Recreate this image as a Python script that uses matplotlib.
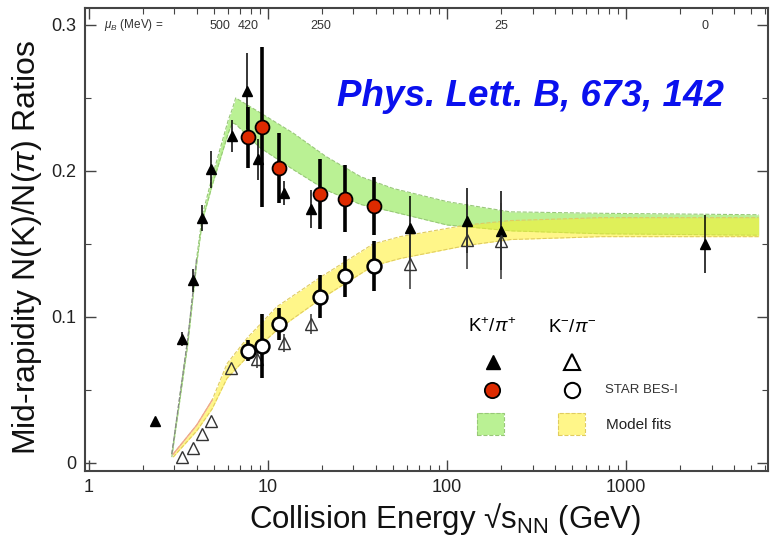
import numpy as np
import matplotlib.pyplot as plt
from matplotlib.patches import Rectangle

plt.rcParams['font.family'] = ['Liberation Sans', 'DejaVu Sans']
plt.rcParams['mathtext.fontset'] = 'custom'
plt.rcParams['mathtext.rm'] = 'Liberation Sans'
plt.rcParams['mathtext.it'] = 'Liberation Sans:italic'

# K+/pi+ world data (filled triangles)
kp_e = [2.35, 3.3, 3.8, 4.3, 4.8, 6.3, 7.6, 8.8, 12.3, 17.3, 62.4, 130, 200, 2760]
kp_r = [0.029, 0.085, 0.125, 0.168, 0.201, 0.224, 0.255, 0.208, 0.185, 0.174, 0.161, 0.166, 0.159, 0.150]
kp_err = [0.0, 0.005, 0.008, 0.009, 0.013, 0.011, 0.026, 0.014, 0.008, 0.013, 0.022, 0.022, 0.027, 0.020]

# K-/pi- world data (open triangles)
km_e = [3.3, 3.8, 4.3, 4.8, 6.2, 8.7, 12.3, 17.3, 62.4, 130, 200]
km_r = [0.004, 0.010, 0.020, 0.029, 0.065, 0.071, 0.082, 0.095, 0.136, 0.153, 0.152]
km_err = [0.0, 0.0, 0.0, 0.0, 0.0, 0.006, 0.006, 0.007, 0.017, 0.020, 0.026]

# STAR BES-I
bes_e = [7.7, 9.2, 11.5, 19.6, 27, 39]
bes_kp = [0.223, 0.230, 0.202, 0.184, 0.181, 0.176]
bes_kp_err = [0.021, 0.055, 0.024, 0.024, 0.023, 0.020]
bes_km = [0.077, 0.080, 0.095, 0.114, 0.128, 0.135]
bes_km_err = [0.007, 0.022, 0.011, 0.015, 0.014, 0.017]

# model bands
gb_e = [2.9, 3.57, 4.0, 4.3, 4.9, 6.0, 6.3, 6.6, 9.0, 13.8, 21, 33, 50, 100, 225, 720, 5500]
gb_hi = [0.006, 0.086, 0.141, 0.170, 0.197, 0.235, 0.242, 0.250, 0.240, 0.226, 0.210, 0.196, 0.188, 0.179, 0.172, 0.171, 0.170]
gb_lo = [0.004, 0.082, 0.137, 0.166, 0.191, 0.226, 0.233, 0.232, 0.216, 0.201, 0.187, 0.177, 0.172, 0.163, 0.159, 0.157, 0.156]

yb_e = [2.95, 4.0, 4.87, 5.9, 7.7, 11.2, 19.5, 38.6, 54.6, 129, 225, 720, 5500]
yb_hi = [0.006, 0.026, 0.043, 0.068, 0.086, 0.107, 0.127, 0.150, 0.155, 0.163, 0.166, 0.168, 0.168]
yb_lo = [0.004, 0.022, 0.037, 0.058, 0.073, 0.091, 0.112, 0.135, 0.140, 0.149, 0.153, 0.155, 0.155]

# baryon chemical potential labels along the top
mub_e = [5.4, 7.7, 19.6, 200, 2760]
mub_lab = ['500', '420', '250', '25', '0']

fig = plt.figure(figsize=(7.7, 5.41), dpi=100)
ax = fig.add_axes([85/770, 70/541, 683/770, 463/541])
ax.set_xscale('log')
ax.set_xlim(0.95, 6200)
ax.set_ylim(-0.0055, 0.3116)

green = (0.51, 0.90, 0.24)
yellow = (1.0, 0.94, 0.16)

# bands
ax.fill_between(gb_e, gb_lo, gb_hi, color=green, alpha=0.55, lw=0, zorder=1)
ax.plot(gb_e, gb_hi, ls='--', lw=0.8, color='#98c878', zorder=1.5)
ax.plot(gb_e, gb_lo, ls='--', lw=0.8, color='#98c878', zorder=1.5)
ax.fill_between(yb_e, yb_lo, yb_hi, color=yellow, alpha=0.55, lw=0, zorder=2)
ax.plot(yb_e, yb_hi, ls='--', lw=0.8, color='#e0cc60', zorder=2.5)
ax.plot(yb_e, yb_lo, ls='--', lw=0.8, color='#e0cc60', zorder=2.5)
# low energy stems of the bands
ax.plot(gb_e[:3], gb_hi[:3], ls='--', lw=0.9, color='#888888', zorder=2.6)
ax.plot(yb_e[:3], yb_hi[:3], ls='-', lw=1.0, color='#f0a890', zorder=2.6)

# data
ax.errorbar(kp_e, kp_r, yerr=kp_err, fmt='^', ms=7, color='black', ecolor='black',
            elinewidth=1.1, capsize=0, zorder=4)
ax.errorbar(km_e, km_r, yerr=km_err, fmt='^', ms=8, mfc='none', mec='#333333', mew=1.0,
            ecolor='#333333', elinewidth=1.1, capsize=0, zorder=4)
ax.errorbar(bes_e, bes_kp, yerr=bes_kp_err, fmt='o', ms=10, mfc='#dd2a00', mec='black', mew=1.3,
            ecolor='black', elinewidth=2.6, capsize=0, zorder=5)
ax.errorbar(bes_e, bes_km, yerr=bes_km_err, fmt='o', ms=10, mfc='white', mec='black', mew=1.8,
            ecolor='black', elinewidth=2.6, capsize=0, zorder=5)

# axes styling
ax.set_xticks([1, 10, 100, 1000])
ax.set_xticklabels(['1', '10', '100', '1000'])
ax.set_yticks([0, 0.1, 0.2, 0.3])
ax.set_yticklabels(['0', '0.1', '0.2', '0.3'])
ax.set_yticks([0.05, 0.15, 0.25], minor=True)
ax.tick_params(which='both', direction='in', top=True, right=True, color='#444444',
               labelsize=13, labelcolor='#222222')
ax.tick_params(which='major', length=8, width=1.0, pad=6)
ax.tick_params(which='minor', length=4, width=0.8)
for s in ax.spines.values():
    s.set_color('#444444')
    s.set_linewidth(1.5)

fig.text(27/770, 1 - 247/541, r'Mid-rapidity N(K)/N($\pi$) Ratios', rotation=90,
         ha='center', va='center', fontsize=23, color='#111111')
fig.text(445/770, 1 - 519/541, r'Collision Energy √s$_{\mathregular{NN}}$ (GeV)',
         ha='center', va='center', fontsize=22.5, color='#111111')

# mu_B row
ax.text(104/770, 1 - 25/541, r'$\mu_{B}$ (MeV) =', transform=fig.transFigure,
        ha='left', va='center', fontsize=8.5, color='#333333')
for e, lab in zip(mub_e, mub_lab):
    ax.text(e, 0.2995, lab, ha='center', va='center', fontsize=9, color='#333333')

ax.text(0.369, 0.808, 'Phys. Lett. B, 673, 142', transform=ax.transAxes, ha='left', va='center',
        fontsize=26.5, fontweight='bold', fontstyle='italic', color='#0a10ee')

# legend
tr = ax.transAxes
ax.text(0.597, 0.311, r'K$^{+}$/$\pi^{+}$', transform=tr, ha='center', va='center', fontsize=13.5)
ax.text(0.713, 0.311, r'K$^{-}$/$\pi^{-}$', transform=tr, ha='center', va='center', fontsize=13.5)
ax.plot([0.597], [0.235], '^', ms=10, color='black', transform=tr, clip_on=False)
ax.plot([0.713], [0.235], '^', ms=11, mfc='none', mec='black', mew=1.5, transform=tr, clip_on=False)
ax.plot([0.596], [0.175], 'o', ms=11, mfc='#dd2a00', mec='black', mew=1.3, transform=tr, clip_on=False)
ax.plot([0.713], [0.175], 'o', ms=11, mfc='white', mec='black', mew=1.5, transform=tr, clip_on=False)
ax.text(0.761, 0.175, 'STAR BES-I', transform=tr, ha='left', va='center', fontsize=9.5, color='#333333')
ax.add_patch(Rectangle((0.574, 0.078), 0.0395, 0.0475, transform=tr, facecolor=green,
                       alpha=0.55, edgecolor='none'))
ax.add_patch(Rectangle((0.574, 0.078), 0.0395, 0.0475, transform=tr, facecolor='none',
                       edgecolor='#98c878', ls='--', lw=0.8))
ax.add_patch(Rectangle((0.6925, 0.078), 0.0395, 0.0475, transform=tr, facecolor=yellow,
                       alpha=0.55, edgecolor='none'))
ax.add_patch(Rectangle((0.6925, 0.078), 0.0395, 0.0475, transform=tr, facecolor='none',
                       edgecolor='#e0cc60', ls='--', lw=0.8))
ax.text(0.763, 0.099, 'Model fits', transform=tr, ha='left', va='center', fontsize=11, color='#222222')

fig.savefig('out.png', dpi=100)
